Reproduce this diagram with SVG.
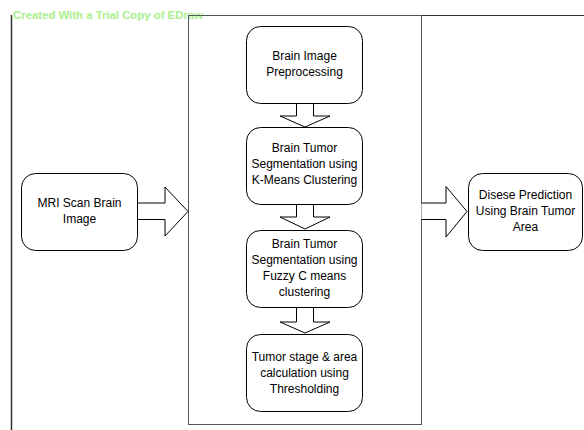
<svg xmlns="http://www.w3.org/2000/svg" width="584" height="430" viewBox="0 0 584 430">
<style>
.box{fill:#fff;stroke:#000;stroke-width:1}
.arr{fill:#fff;stroke:#000;stroke-width:1;stroke-linejoin:miter}
.t{font-family:"Liberation Sans",Arial,sans-serif;font-size:12px;fill:#000;text-anchor:middle}
.wm{font-family:"Liberation Sans",Arial,sans-serif;font-size:10.5px;font-weight:bold;fill:#a8f08c}
</style>
<rect width="584" height="430" fill="#fff"/>
<g id="frame">
<line x1="11.5" y1="15" x2="11.5" y2="430" stroke="#333" stroke-width="1.5"/>
<line x1="203" y1="15.5" x2="584" y2="15.5" stroke="#333" stroke-width="1"/>
<text class="wm" x="13" y="19" textLength="190" lengthAdjust="spacingAndGlyphs">Created With a Trial Copy of EDraw</text>
</g>
<g id="container">
<rect x="188.5" y="15.5" width="233" height="409" fill="none" stroke="#555" stroke-width="1"/>
</g>
<g id="connectors">
<path class="arr" d="M138,203 H165 V187 L188,211.5 L165,236 V219.5 H138"/>
<path class="arr" d="M421.5,203 H446 V186.5 L467,211.5 L446,237 V219.5 H421.5"/>
<path class="arr" d="M296.5,103 V116 H280 L305,127 L330,116 H313.5 V103"/>
<path class="arr" d="M296.5,204 V217 H280 L305,229 L330,217 H313.5 V204"/>
<path class="arr" d="M296.5,307 V322 H280 L305,333 L330,322 H313.5 V307"/>
</g>
<g id="mri">
<rect class="box" x="21.5" y="173.5" width="116" height="77" rx="14"/>
<text class="t" x="79.5" y="207">MRI Scan Brain</text>
<text class="t" x="79.5" y="223">Image</text>
</g>
<g id="preprocessing">
<rect class="box" x="246.5" y="26.5" width="116" height="77" rx="14"/>
<text class="t" x="304.5" y="60">Brain Image</text>
<text class="t" x="304.5" y="76">Preprocessing</text>
</g>
<g id="kmeans">
<rect class="box" x="246.5" y="127.5" width="116" height="77" rx="14"/>
<text class="t" x="304.5" y="152">Brain Tumor</text>
<text class="t" x="304.5" y="168">Segmentation using</text>
<text class="t" x="304.5" y="184">K-Means Clustering</text>
</g>
<g id="fuzzy">
<rect class="box" x="246.5" y="230.5" width="116" height="77" rx="14"/>
<text class="t" x="304.5" y="248">Brain Tumor</text>
<text class="t" x="304.5" y="264">Segmentation using</text>
<text class="t" x="304.5" y="280">Fuzzy C means</text>
<text class="t" x="304.5" y="296">clustering</text>
</g>
<g id="threshold">
<rect class="box" x="246.5" y="334.5" width="116" height="77" rx="14"/>
<text class="t" x="304.5" y="361">Tumor stage &amp; area</text>
<text class="t" x="304.5" y="377">calculation using</text>
<text class="t" x="304.5" y="393">Thresholding</text>
</g>
<g id="prediction">
<rect class="box" x="468.5" y="173.5" width="114" height="77" rx="14"/>
<text class="t" x="525.5" y="199">Disese Prediction</text>
<text class="t" x="525.5" y="215">Using Brain Tumor</text>
<text class="t" x="525.5" y="231">Area</text>
</g>
</svg>
